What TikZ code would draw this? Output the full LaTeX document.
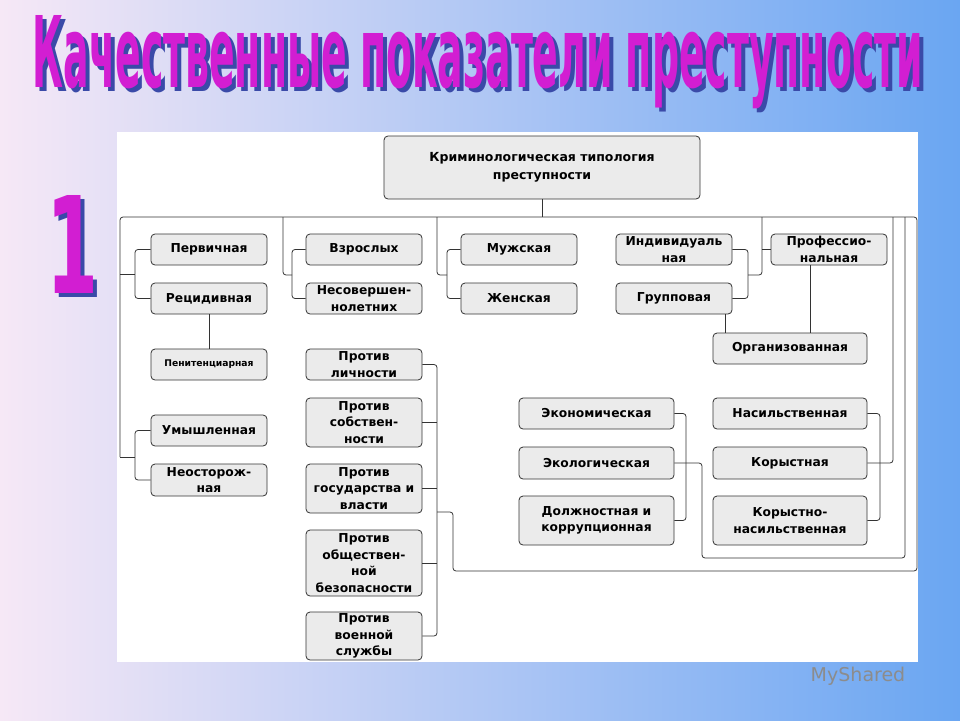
\documentclass[tikz,border=0pt]{standalone}
\usepackage{fontspec}
\usepackage{graphicx}
\setmainfont{DejaVu Sans}
\newfontfamily\titlefont{DejaVu Sans Condensed}
\definecolor{bgl}{HTML}{F6E8F6}
\definecolor{bgr}{HTML}{6AA6F2}
\definecolor{boxfill}{HTML}{EBEBEB}
\definecolor{ln}{HTML}{333333}
\definecolor{ttl}{HTML}{D21ED2}
\definecolor{shd}{HTML}{3A4AA8}
\tikzset{
  bx/.style={draw=ln, line width=0.8pt, rounded corners=4pt, fill=boxfill, align=center,
    font=\fontsize{12.3}{16.5}\selectfont\bfseries, inner sep=1pt},
  cn/.style={draw=ln, line width=0.8pt, rounded corners=3pt},
}
\newcommand{\ttext}[1]{{\titlefont\bfseries #1}}
\begin{document}
\begin{tikzpicture}[x=1pt,y=-1pt]
\useasboundingbox (0,0) rectangle (960,720);
\shade[left color=bgl, right color=bgr] (0,0) rectangle (960,720);
% title with shadow
\node[inner sep=0, text=shd] (tsh) at (482,66) {\resizebox{890pt}{72pt}{\ttext{Качественные показатели  преступности}}};
\node[inner sep=0, text=ttl] (ttl) at (478,62) {\resizebox{890pt}{72pt}{\ttext{Качественные показатели  преступности}}};
\node[inner sep=0, text=shd] (onesh) at (77,248) {\resizebox{52pt}{98pt}{\ttext{1}}};
\node[inner sep=0, text=ttl] (one) at (73,244) {\resizebox{52pt}{98pt}{\ttext{1}}};
% panel
\fill[white] (117,132) rectangle (918,662);
% boxes
\node[bx, minimum width=316, minimum height=63, font=\fontsize{12.5}{18}\selectfont\bfseries] (root) at (542,167.5) {Криминологическая типология\\преступности};
\node[bx, minimum width=116, minimum height=31] (per) at (209,249.5) {Первичная};
\node[bx, minimum width=116, minimum height=31] (rec) at (209,298.5) {Рецидивная};
\node[bx, minimum width=116, minimum height=31, font=\fontsize{9.2}{10}\selectfont\bfseries] (pen) at (209,364.5) {Пенитенциарная};
\node[bx, minimum width=116, minimum height=31] (um) at (209,430.5) {Умышленная};
\node[bx, minimum width=116, minimum height=32] (neo) at (209,480) {Неосторож-\\ная};
\node[bx, minimum width=116, minimum height=31] (vz) at (364,249.5) {Взрослых};
\node[bx, minimum width=116, minimum height=31] (ns) at (364,298.5) {Несовершен-\\нолетних};
\node[bx, minimum width=116, minimum height=31] (pl) at (364,364.5) {Против\\личности};
\node[bx, minimum width=116, minimum height=49] (ps) at (364,422.5) {Против\\собствен-\\ности};
\node[bx, minimum width=116, minimum height=49] (pg) at (364,488.5) {Против\\государства и\\власти};
\node[bx, minimum width=116, minimum height=66] (po) at (364,563) {Против\\обществен-\\ной\\безопасности};
\node[bx, minimum width=116, minimum height=48] (pv) at (364,636) {Против\\военной\\службы};
\node[bx, minimum width=116, minimum height=31] (mu) at (519,249.5) {Мужская};
\node[bx, minimum width=116, minimum height=31] (zh) at (519,298.5) {Женская};
\node[bx, minimum width=116, minimum height=31] (ind) at (674,249.5) {Индивидуаль\\ная};
\node[bx, minimum width=116, minimum height=31] (grp) at (674,298.5) {Групповая};
\node[bx, minimum width=116, minimum height=31] (prof) at (829,249.5) {Профессио-\\нальная};
\node[bx, minimum width=154, minimum height=31] (org) at (790,348.5) {Организованная};
\node[bx, minimum width=155, minimum height=31] (ek) at (596.5,413.5) {Экономическая};
\node[bx, minimum width=155, minimum height=32] (eko) at (596.5,463) {Экологическая};
\node[bx, minimum width=155, minimum height=49] (dk) at (596.5,520.5) {Должностная и\\коррупционная};
\node[bx, minimum width=154, minimum height=31] (nas) at (790,413.5) {Насильственная};
\node[bx, minimum width=154, minimum height=32] (kor) at (790,463) {Корыстная};
\node[bx, minimum width=154, minimum height=49] (kn) at (790,520.5) {Корыстно-\\насильственная};
% coordinates
\coordinate (a) at (120,217);
\coordinate (b) at (917,217);
\coordinate (c) at (917,571);
\coordinate (d) at (453,571);
\coordinate (e) at (453,512);
\coordinate (px) at (437,0);
\coordinate (lx) at (135,0);
\coordinate (g1) at (725,0);
\coordinate (p1) at (810,0);
% connectors
\draw[cn] (root.south) -- (root.south |- a);
\draw[cn] (120,457) -- (a) -- (b) -- (c) -- (d) -- (e) -- (e -| px);
\draw[cn] (per.west) -| (lx |- rec.west) -- (rec.west);
\draw[cn] (120,274) -- (135,274);
\draw[cn] (um.west) -| (lx |- neo.west) -- (neo.west);
\draw[cn] (120,457) -- (135,457);
\draw[cn] (rec.south) -- (pen.north);
\draw[cn] (vz.west) -| (292,298.5) -- (ns.west);
\draw[cn] (283,217) |- (292,275);
\draw[cn] (mu.west) -| (447,298.5) -- (zh.west);
\draw[cn] (437,217) |- (447,275);
\draw[cn] (ind.east) -| (748,298.5) -- (grp.east);
\draw[cn] (748,275) -| (762,217);
\draw[cn] (prof.west) -- (762,249.5);
\draw[cn] (grp.south -| g1) -- (org.north -| g1);
\draw[cn] (prof.south -| p1) -- (org.north -| p1);
\draw[cn] (pl.east) -| (px |- pv.east) -- (pv.east);
\draw[cn] (ps.east) -- (ps.east -| px);
\draw[cn] (pg.east) -- (pg.east -| px);
\draw[cn] (po.east) -- (po.east -| px);
\draw[cn] (ek.east) -| (686,520.5) -- (dk.east);
\draw[cn] (eko.east) -| (702,558) -| (905,217);
\draw[cn] (nas.east) -| (880,520.5) -- (kn.east);
\draw[cn] (kor.east) -| (893,217);
% watermark
\node[text=black!45, font=\fontsize{19}{20}\selectfont] (wm) at (858,676) {MyShared};
\end{tikzpicture}
\end{document}
